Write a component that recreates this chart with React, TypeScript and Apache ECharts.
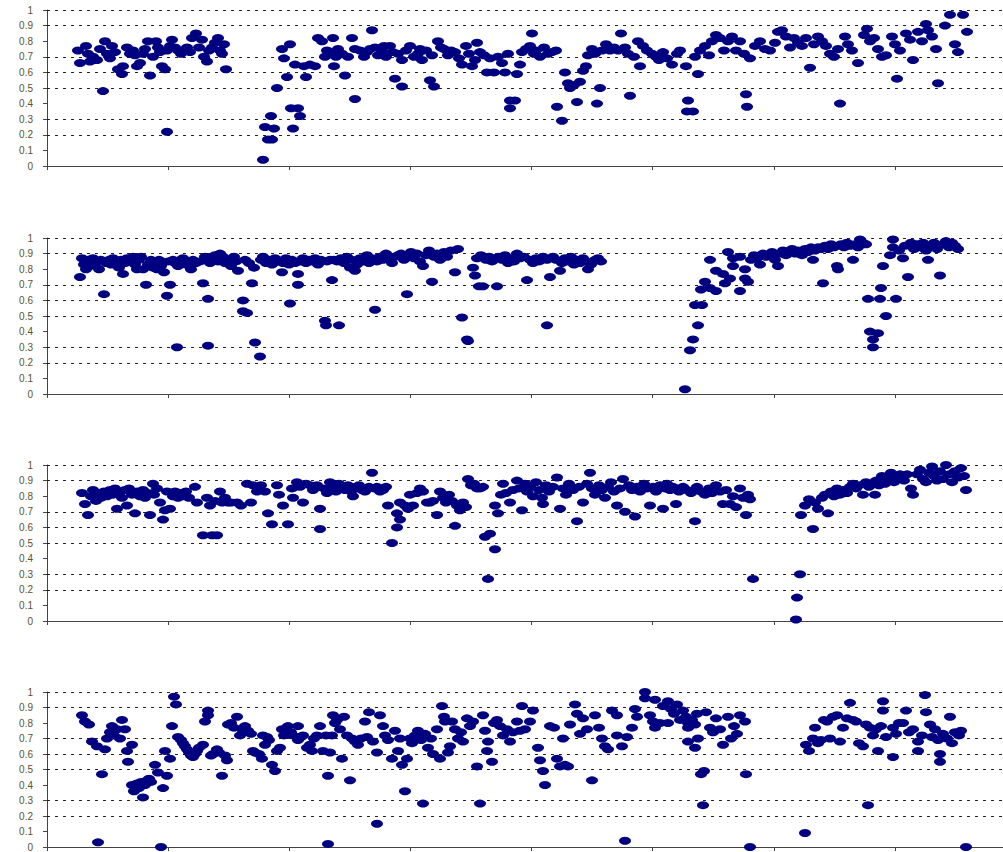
import React, { useEffect, useRef } from "react";
import * as echarts from "echarts";

// Dotted gridlines visible in the reference (0.8, 0.4 and 0.1 are not drawn)
const gridValues = [1, 0.9, 0.7, 0.6, 0.5, 0.3, 0.2];
// Category-axis tick marks along each x axis
const xTickValues = [0, 121, 242, 363, 484, 605, 727, 848];
const X_MAX = 956;

const panel1: [number, number][] = [
  [31,.74],[33,.66],[39,.77],[41,.72],[43,.67],[46,.70],[50,.68],[53,.75],[56,.48],[58,.80],[60,.72],[63,.69],[65,.77],[68,.73],[71,.62],[75,.59],[76,.64],[80,.76],[83,.72],[86,.74],[88,.71],[90,.64],[93,.66],[96,.72],[98,.75],[101,.80],[103,.58],[106,.70],[109,.80],[111,.76],[113,.73],[115,.64],[118,.62],[120,.22],[120,.74],[123,.77],[125,.81],[128,.76],[131,.74],[134,.72],[136,.74],[140,.76],[143,.73],[145,.82],[149,.85],[152,.76],[155,.81],[157,.70],[160,.67],[162,.74],[165,.76],[168,.79],[171,.82],[173,.74],[175,.72],[177,.78],[179,.62],
  [216,.04],[218,.25],[221,.17],[224,.32],[225,.17],[227,.24],[230,.50],[235,.75],[237,.69],[240,.57],[243,.78],[244,.37],[246,.24],[248,.65],[251,.37],[253,.32],[257,.64],[259,.57],[263,.65],[268,.64],[271,.82],[275,.80],[278,.70],[280,.74],[285,.72],[286,.82],[287,.64],[289,.70],[291,.75],[295,.72],[298,.58],[301,.70],[305,.82],[308,.75],[308,.43],[313,.74],[317,.70],[320,.73],[323,.75],[325,.87],[328,.76],[331,.71],[335,.74],[337,.77],[339,.70],[343,.77],[346,.73],[348,.56],[351,.72],[355,.51],[355,.68],[359,.74],[363,.77],[367,.70],[371,.72],[373,.75],[375,.68],[379,.74],[383,.55],[385,.71],[387,.51],[391,.80],[394,.76],[397,.75],[401,.71],[404,.74],[408,.73],[412,.69],[415,.65],[419,.77],[422,.72],[425,.64],[428,.68],[430,.79],[433,.73],[437,.71],[440,.60],[443,.69],[447,.60],[451,.70],[455,.66],[458,.60],[461,.72],[463,.42],[463,.37],[468,.42],[470,.59],[473,.65],[475,.73],[479,.75],[483,.77],[485,.85],[487,.72],[489,.74],[493,.70],[497,.76],[501,.72],[505,.73],[509,.74],[510,.38],[515,.29],[518,.60],[521,.53],[523,.50],[527,.52],[530,.41],[533,.54],[536,.61],[539,.64],[541,.71],[545,.75],[548,.72],[550,.40],[553,.50],[555,.74],[559,.78],[563,.74],[567,.76],[571,.74],[574,.85],[578,.76],[581,.72],[583,.45],[587,.70],[591,.80],[593,.64],[596,.77],[600,.74],[605,.72],[609,.70],[612,.68],
  [616,.73],[620,.69],[625,.65],[630,.72],[633,.74],[639,.64],[641,.42],[640,.35],[646,.35],[651,.59],[648,.70],[653,.74],[658,.77],[662,.71],[665,.80],[669,.84],[673,.82],[677,.74],[681,.80],[685,.83],[689,.74],[693,.80],[697,.72],[699,.46],[700,.38],[703,.69],[708,.77],[713,.80],[718,.75],[723,.74],[728,.79],[731,.86],[735,.87],[739,.83],[743,.76],[747,.82],[751,.79],[755,.77],[759,.82],[763,.63],[767,.78],[771,.83],[775,.80],[779,.77],[783,.72],[787,.70],[793,.40],[791,.75],[798,.83],[801,.78],[805,.74],[811,.66],[817,.84],[820,.88],[823,.80],[827,.82],[831,.75],[835,.70],[839,.71],[845,.83],[848,.78],[850,.56],[853,.74],[859,.85],[863,.81],[866,.68],[871,.86],[875,.80],[879,.91],[881,.87],[885,.83],[889,.75],[891,.53],[898,.90],[903,.97],[908,.78],[911,.73],[916,.97],[920,.86]
];

const panel2: [number, number][] = [
  [33,.75],[35,.87],[37,.83],[39,.80],[41,.86],[43,.84],[46,.87],[48,.82],[50,.85],[52,.80],[54,.86],[57,.64],[59,.84],[62,.86],[64,.83],[66,.87],[69,.85],[72,.81],[74,.86],[76,.77],[78,.84],[80,.87],[83,.85],[86,.88],[88,.83],[90,.80],[92,.86],[94,.88],[96,.80],[99,.70],[101,.83],[104,.86],[106,.81],[108,.84],[110,.80],[112,.86],[114,.82],[117,.78],[120,.63],[121,.85],[123,.70],[126,.86],[128,.84],[130,.30],[131,.82],[134,.86],[136,.87],[139,.83],[141,.85],[144,.80],[146,.86],[149,.84],[153,.85],[156,.71],[158,.88],[161,.61],[161,.31],[163,.84],[166,.86],[168,.89],[171,.85],[173,.90],[176,.88],[178,.84],[181,.86],[184,.82],[187,.88],[189,.85],[191,.79],[196,.60],[196,.53],[198,.86],[200,.52],[202,.84],[205,.71],[207,.81],[208,.33],[213,.24],[214,.86],[216,.88],[219,.84],[222,.86],[225,.83],[228,.87],[231,.85],[235,.78],[236,.84],[239,.87],[242,.83],[243,.58],[245,.86],[248,.84],[251,.77],[251,.70],[253,.85],[256,.87],[259,.84],[262,.86],[265,.85],[268,.87],[271,.83],[274,.86],[278,.47],[279,.44],[280,.85],[283,.86],[285,.73],[287,.86],[290,.85],[292,.44],[294,.87],[297,.84],[300,.88],[303,.81],[305,.86],[308,.79],[310,.83],[313,.87],[316,.85],[320,.89],[322,.84],[325,.87],[328,.54],[330,.85],[333,.88],[336,.86],[339,.90],[342,.87],[345,.84],[348,.88],[351,.89],[354,.90],[357,.86],[360,.64],[361,.88],[364,.91],[367,.87],[370,.90],[373,.85],[376,.82],[379,.89],[382,.92],[385,.72],[387,.88],[390,.90],[393,.86],[397,.91],[400,.88],[404,.92],[408,.78],[411,.93],[415,.49],[420,.35],[421,.34],[426,.81],[428,.76],[430,.87],[432,.69],[434,.89],[436,.69],[439,.86],[442,.88],[445,.85],[448,.87],[450,.69],[452,.88],[455,.86],[458,.89],[461,.84],[464,.87],[467,.85],[470,.90],[473,.87],[477,.88],[480,.73],[483,.86],[486,.84],[489,.87],[492,.85],[496,.88],[500,.44],[500,.86],[503,.75],[506,.88],[509,.86],[513,.79],[515,.84],[518,.87],[521,.85],[524,.88],[527,.83],[530,.86],[533,.84],[536,.87],[539,.85],[541,.80],[544,.83],[548,.86],[551,.87],[554,.85],
  [638,.03],[643,.28],[646,.35],[651,.44],[648,.57],[655,.57],[654,.67],[658,.72],[663,.86],[663,.68],[669,.79],[669,.66],[676,.77],[678,.71],[681,.91],[683,.74],[686,.87],[686,.82],[693,.88],[693,.66],[698,.80],[698,.74],[701,.72],[704,.86],[707,.89],[710,.87],[713,.83],[716,.90],[719,.88],[722,.89],[725,.91],[728,.86],[731,.82],[733,.90],[736,.92],[739,.89],[742,.91],[745,.93],[748,.90],[751,.92],[755,.89],[758,.93],[761,.91],[764,.94],[766,.86],[768,.92],[771,.94],[774,.93],[776,.71],[778,.95],[781,.93],[784,.96],[787,.94],[790,.82],[791,.80],[794,.96],[797,.94],[800,.97],[803,.95],[806,.86],[808,.96],[811,.94],[813,.99],[816,.97],[819,.96],
  [821,.61],[823,.40],[826,.30],[826,.35],[831,.39],[833,.61],[834,.68],[836,.82],[839,.50],[843,.89],[846,.99],[846,.94],[849,.61],[852,.92],[856,.87],[858,.95],[861,.75],[864,.97],[867,.93],[870,.96],[873,.94],[876,.97],[879,.92],[881,.86],[884,.95],[887,.97],[890,.93],[893,.76],[896,.96],[899,.98],[902,.94],[905,.97],[908,.95],[911,.93]
];

const panel3: [number, number][] = [
  [35,.82],[38,.75],[41,.68],[44,.80],[46,.84],[49,.77],[51,.82],[54,.79],[57,.83],[60,.80],[63,.84],[66,.81],[68,.85],[70,.72],[72,.82],[75,.79],[78,.84],[80,.74],[82,.85],[85,.81],[88,.69],[90,.83],[93,.80],[96,.84],[98,.79],[101,.82],[103,.68],[106,.88],[107,.81],[110,.85],[113,.76],[116,.65],[118,.71],[120,.83],[123,.72],[126,.80],[128,.83],[131,.79],[133,.82],[136,.80],[139,.83],[142,.79],[148,.86],[150,.76],[156,.55],[160,.79],[163,.74],[165,.55],[168,.77],[170,.55],[173,.83],[175,.76],[178,.79],[181,.76],[184,.76],[190,.76],[194,.74],[200,.88],[204,.76],[206,.87],[210,.83],[214,.87],[218,.83],[221,.69],[225,.62],[230,.87],[232,.81],[236,.74],[241,.62],[245,.85],[246,.79],[250,.89],[253,.86],[256,.76],[259,.88],[263,.87],[266,.84],[270,.87],[273,.72],[273,.59],[277,.85],[280,.82],[283,.89],[286,.86],[289,.83],[292,.88],[295,.86],[298,.84],[301,.87],[304,.83],[306,.80],[309,.86],[312,.87],[315,.84],[318,.83],[322,.86],[325,.95],[327,.85],[330,.86],[333,.83],[336,.84],[339,.86],[341,.74],[345,.50],[350,.69],[350,.60],[353,.76],[353,.65],[358,.74],[361,.72],[363,.81],[366,.74],[370,.82],[373,.85],[376,.83],[380,.76],[383,.76],[386,.77],[390,.68],[393,.83],[396,.79],[399,.76],[402,.81],[405,.77],[408,.61],[410,.74],[413,.71],[416,.76],[419,.73],[421,.91],[424,.87],[427,.88],[430,.85],[433,.85],[436,.86],[438,.54],[441,.27],[443,.56],[448,.46],[448,.74],[451,.69],[454,.81],[456,.88],[459,.82],[463,.76],[466,.84],[470,.90],[472,.85],[475,.71],[478,.88],[480,.83],[483,.86],[486,.80],[489,.89],[492,.84],[495,.79],[496,.75],[499,.87],[502,.83],[506,.86],[510,.92],[513,.72],[516,.85],[519,.81],[522,.88],[526,.84],[530,.64],[532,.86],[536,.76],[540,.88],[543,.95],[545,.85],[548,.81],[552,.87],[555,.84],[558,.79],[561,.86],[564,.89],[567,.83],[570,.74],[573,.85],[576,.91],[578,.70],[582,.87],[585,.84],[588,.67],[590,.86],[593,.83],[597,.88],[600,.85],[603,.74],[606,.86],[609,.83],[613,.87],[616,.72],[618,.85],[620,.88],[623,.84],[626,.86],[629,.75],[632,.83],[636,.86],[640,.84],[644,.82],[648,.64],[650,.86],[654,.83],[658,.81],[662,.85],[665,.82],[669,.87],[673,.83],[676,.75],[679,.84],[683,.75],[686,.80],[689,.73],[693,.85],[696,.79],[699,.68],[701,.81],[703,.78],[706,.27],
  [749,.01],[750,.15],[753,.30],[754,.68],[758,.74],[762,.78],[766,.59],[768,.76],[771,.72],[775,.79],[778,.81],[781,.69],[784,.83],[787,.80],[790,.85],[793,.81],[796,.84],[800,.82],[803,.86],[806,.88],[809,.85],[812,.87],[816,.81],[819,.89],[822,.86],[825,.88],[828,.81],[829,.90],[832,.87],[835,.93],[838,.88],[841,.91],[844,.95],[847,.89],[850,.93],[853,.94],[857,.90],[860,.94],[864,.85],[866,.81],[870,.94],[873,.97],[876,.91],[879,.89],[882,.95],[885,.99],[887,.93],[890,.90],[893,.96],[896,.91],[899,1.0],[902,.94],[905,.89],[908,.96],[911,.92],[914,.98],[917,.93],[919,.84]
];

const panel4: [number, number][] = [
  [35,.85],[38,.81],[42,.79],[45,.68],[50,.65],[51,.03],[55,.47],[58,.63],[60,.70],[63,.74],[65,.78],[67,.72],[70,.76],[73,.70],[75,.82],[78,.76],[80,.62],[81,.55],[85,.66],[85,.40],[87,.36],[90,.41],[92,.38],[94,.42],[96,.32],[98,.40],[100,.43],[102,.44],[104,.42],[108,.53],[111,.48],[114,.00],[116,.38],[118,.62],[120,.46],[123,.57],[125,.78],[127,.97],[129,.92],[131,.71],[134,.69],[136,.67],[138,.65],[140,.63],[142,.61],[144,.59],[146,.58],[148,.60],[150,.62],[152,.64],[156,.66],[158,.81],[161,.88],[161,.85],[164,.59],[166,.60],[170,.63],[172,.61],[175,.46],[178,.59],[180,.56],[181,.79],[184,.80],[187,.77],[190,.84],[193,.72],[196,.75],[198,.78],[201,.75],[204,.73],[206,.62],[208,.61],[212,.60],[215,.57],[216,.72],[218,.66],[220,.71],[222,.69],[225,.53],[228,.49],[230,.62],[233,.64],[235,.76],[237,.72],[241,.78],[244,.74],[246,.72],[251,.69],[251,.78],[254,.71],[256,.72],[260,.64],[263,.66],[265,.62],[267,.70],[270,.72],[273,.78],[276,.62],[279,.72],[281,.46],[281,.02],[283,.61],[285,.72],[286,.85],[288,.80],[290,.82],[293,.76],[295,.57],[297,.84],[300,.72],[303,.43],[305,.70],[308,.68],[311,.66],[314,.70],[318,.81],[320,.71],[322,.87],[326,.68],[330,.61],[330,.15],[333,.85],[336,.78],[338,.72],[341,.69],[345,.57],[348,.75],[351,.62],[353,.70],[355,.53],[358,.36],[360,.57],[363,.70],[365,.67],[368,.72],[371,.75],[374,.69],[376,.28],[378,.73],[381,.64],[384,.70],[386,.60],[390,.76],[393,.57],[395,.91],[397,.84],[398,.81],[401,.61],[403,.65],[405,.81],[408,.76],[411,.70],[414,.74],[416,.68],[420,.83],[423,.78],[426,.81],[430,.52],[433,.28],[436,.85],[438,.75],[440,.62],[441,.68],[445,.55],[447,.80],[450,.82],[453,.78],[456,.72],[460,.76],[463,.68],[466,.74],[470,.81],[473,.75],[475,.91],[478,.76],[483,.81],[486,.88],[491,.64],[493,.56],[496,.49],[498,.40],[503,.78],[507,.77],[510,.57],[513,.52],[516,.70],[518,.53],[521,.52],[523,.79],[528,.92],[530,.86],[533,.73],[536,.83],[540,.76],[545,.43],[548,.85],[552,.77],[555,.70],[558,.65],[561,.63],[565,.88],[570,.85],[570,.72],[575,.65],[578,.04],[580,.71],[585,.77],[588,.89],[590,.84],[598,1.0],[598,.96],[603,.85],[606,.81],[608,.95],[608,.77],[613,.80],[616,.91],[621,.94],[621,.80],[624,.89],[627,.86],[630,.92],[633,.82],[636,.88],[639,.84],[641,.80],[641,.77],[645,.82],[648,.79],[650,.86],[641,.68],[648,.64],[651,.70],[654,.47],[656,.27],[657,.49],[659,.87],[663,.77],[666,.74],[669,.83],[673,.76],[676,.66],[681,.84],[684,.70],[687,.78],[690,.73],[693,.85],[698,.81],[699,.47],[703,.00],
  [758,.09],[759,.66],[762,.62],[766,.70],[768,.77],[771,.67],[774,.69],[777,.82],[780,.81],[783,.70],[786,.84],[790,.85],[793,.68],[796,.77],[800,.83],[803,.93],[806,.82],[809,.81],[812,.67],[816,.65],[819,.79],[821,.27],[823,.77],[826,.72],[829,.76],[831,.62],[834,.78],[836,.94],[836,.88],[839,.71],[846,.77],[846,.58],[849,.73],[852,.80],[856,.80],[859,.88],[862,.74],[866,.76],[871,.68],[871,.62],[875,.72],[878,.98],[879,.87],[883,.79],[885,.71],[888,.76],[891,.69],[893,.60],[893,.55],[896,.73],[900,.70],[903,.84],[905,.67],[908,.74],[912,.72],[914,.75],[919,.00]
];

const panels = [panel1, panel2, panel3, panel4];

export default function App() {
  const ref = useRef<HTMLDivElement>(null);
  useEffect(() => {
    if (!ref.current) return;
    const chart = echarts.init(ref.current, undefined, { renderer: "svg" });
    const tops = [10, 238, 465, 692];
    const h = 156;
    const axisColor = "#444";
    chart.setOption({
      animation: false,
      backgroundColor: "#ffffff",
      grid: tops.map((t) => ({ left: 47, right: 0, top: t, height: h, containLabel: false })),
      xAxis: panels.map((_, i) => ({
        gridIndex: i,
        type: "value",
        min: 0,
        max: X_MAX,
        axisLine: { show: true, onZero: false, lineStyle: { color: axisColor, width: 1 } },
        axisTick: { show: true, customValues: xTickValues, length: 4, lineStyle: { color: axisColor } },
        axisLabel: { show: false },
        splitLine: { show: false },
      })),
      yAxis: panels.map((_, i) => ({
        gridIndex: i,
        type: "value",
        min: 0,
        max: 1,
        interval: 0.1,
        axisLine: { show: true, lineStyle: { color: axisColor, width: 1 } },
        axisTick: { show: true, length: 4, lineStyle: { color: axisColor } },
        axisLabel: {
          fontSize: 10,
          fontFamily: "Liberation Sans, Arial, sans-serif",
          color: "#5c5230",
          margin: 14,
          formatter: (v: number) => String(Math.round(v * 10) / 10),
        },
        splitLine: { show: false },
      })),
      series: panels.map((d, i) => ({
        type: "scatter",
        xAxisIndex: i,
        yAxisIndex: i,
        data: d,
        z: 3,
        symbol: "circle",
        symbolSize: [12, 8],
        itemStyle: { color: "#000080", opacity: 1 },
        markLine: {
          silent: true,
          z: 1,
          symbol: "none",
          label: { show: false },
          lineStyle: { type: [3, 5], color: "#222", width: 1, opacity: 1 },
          data: gridValues.map((v) => ({ yAxis: v })),
        },
      })),
    });
    return () => chart.dispose();
  }, []);
  return (
    <div
      ref={ref}
      style={{ position: "fixed", left: 0, top: 0, width: 1003, height: 852, background: "#fff" }}
    />
  );
}
